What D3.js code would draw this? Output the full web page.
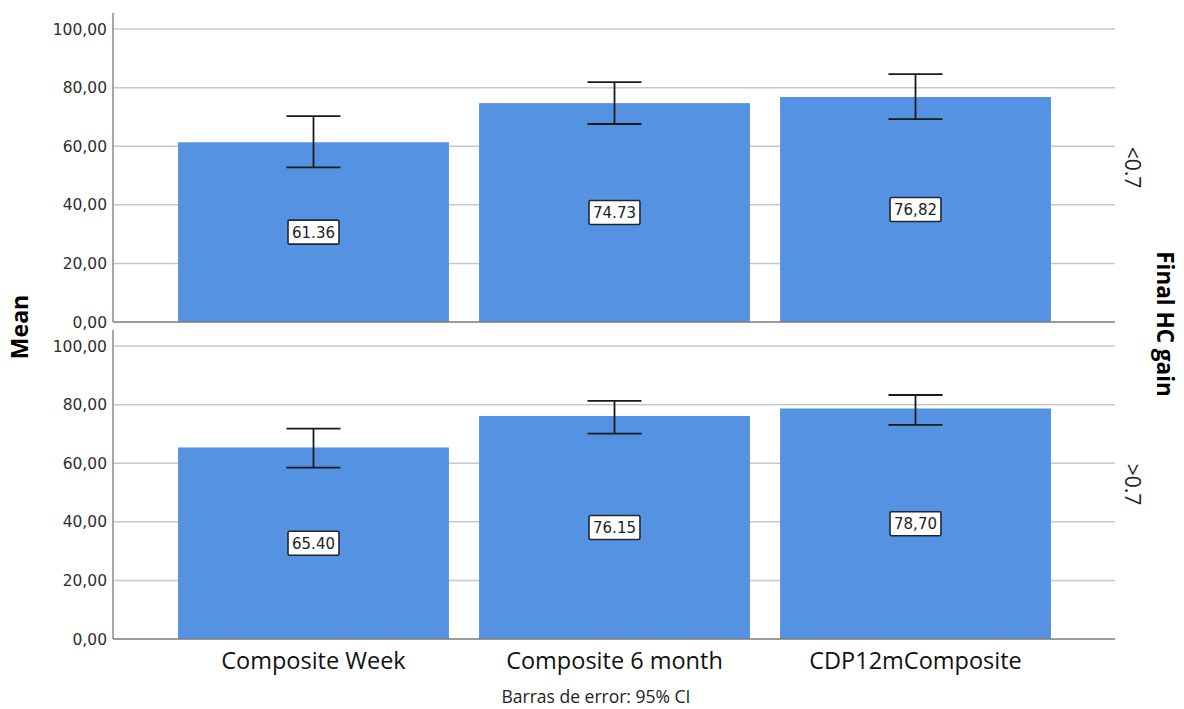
<!DOCTYPE html>
<html>
<head>
<meta charset="utf-8">
<script src="https://cdn.jsdelivr.net/npm/d3@7"></script>
<style>
  html, body { margin: 0; padding: 0; background: #fff; }
  svg { display: block; }
</style>
</head>
<body>
<svg id="chart" width="1184" height="709"></svg>
<script>
// Measures compared on the x axis
const categories = ["Composite Week", "Composite 6 month", "CDP12mComposite"];

// Panel groups (Final HC gain)
const groups = ["<0.7", ">0.7"];

// Mean per panel, in category order
const meansLow  = [61.36, 74.73, 76.82];
const meansHigh = [65.40, 76.15, 78.70];

// 95% CI bounds per panel
const ciLowLower  = [52.8, 67.6, 69.3];
const ciLowUpper  = [70.3, 81.9, 84.6];
const ciHighLower = [58.5, 70.1, 73.1];
const ciHighUpper = [71.8, 81.3, 83.3];

// Value labels as printed on the bars
const labelsLow  = ["61.36", "74.73", "76,82"];
const labelsHigh = ["65.40", "76.15", "78,70"];

// Y axis ticks
const yTicks = [0, 20, 40, 60, 80, 100];
const yTickLabels = ["0,00", "20,00", "40,00", "60,00", "80,00", "100,00"];

const panels = [
  { group: groups[0], means: meansLow,  lo: ciLowLower,  hi: ciLowUpper,  labels: labelsLow,  top: 13,  bottom: 322 },
  { group: groups[1], means: meansHigh, lo: ciHighLower, hi: ciHighUpper, labels: labelsHigh, top: 330, bottom: 639 }
];

const svg = d3.select("#chart");
const plotLeft = 113, plotRight = 1115;
const barColor = "#5592e1";
const yMax = 105.5;

const x = d3.scaleBand()
  .domain(categories)
  .range([163, 1066])
  .paddingInner(0.1)
  .paddingOuter(0.05);

const numFont = "'DejaVu Sans', sans-serif";
const textFont = "'Open Sans', 'Liberation Sans', sans-serif";

panels.forEach(p => {
  const y = d3.scaleLinear().domain([0, yMax]).range([p.bottom, p.top]);
  const g = svg.append("g");

  // gridlines
  g.selectAll("line.grid")
    .data(yTicks.filter(t => t > 0))
    .join("line")
    .attr("x1", plotLeft).attr("x2", plotRight)
    .attr("y1", d => y(d)).attr("y2", d => y(d))
    .attr("stroke", "#c8c8c8").attr("stroke-width", 1.5);

  // y axis labels
  g.selectAll("text.tick")
    .data(yTicks)
    .join("text")
    .attr("x", 107)
    .attr("y", d => y(d))
    .attr("dy", "0.36em")
    .attr("text-anchor", "end")
    .attr("font-family", numFont)
    .attr("font-size", 15.5)
    .attr("fill", "#2e2e2e")
    .text((d, i) => yTickLabels[i]);

  // bars
  g.selectAll("rect.bar")
    .data(categories)
    .join("rect")
    .attr("x", d => x(d))
    .attr("width", x.bandwidth())
    .attr("y", (d, i) => y(p.means[i]))
    .attr("height", (d, i) => y(0) - y(p.means[i]))
    .attr("fill", barColor);

  // baseline and y axis line
  g.append("line")
    .attr("x1", plotLeft).attr("x2", plotRight)
    .attr("y1", y(0)).attr("y2", y(0))
    .attr("stroke", "#7a7a7a").attr("stroke-width", 1.5);
  g.append("line")
    .attr("x1", plotLeft).attr("x2", plotLeft)
    .attr("y1", p.top).attr("y2", y(0))
    .attr("stroke", "#8a8a8a").attr("stroke-width", 1.5);

  // error bars and value labels
  const capHalf = 27;
  categories.forEach((c, i) => {
    const cx = x(c) + x.bandwidth() / 2;
    const eg = g.append("g").attr("stroke", "#1a1a1a").attr("stroke-width", 1.8);
    eg.append("line").attr("x1", cx).attr("x2", cx).attr("y1", y(p.hi[i])).attr("y2", y(p.lo[i]));
    eg.append("line").attr("x1", cx - capHalf).attr("x2", cx + capHalf).attr("y1", y(p.hi[i])).attr("y2", y(p.hi[i]));
    eg.append("line").attr("x1", cx - capHalf).attr("x2", cx + capHalf).attr("y1", y(p.lo[i])).attr("y2", y(p.lo[i]));

    const ly = y(p.means[i] / 2);
    const lg = g.append("g").attr("transform", `translate(${cx},${ly})`);
    const t = lg.append("text")
      .attr("text-anchor", "middle")
      .attr("dy", "0.36em")
      .attr("font-family", numFont)
      .attr("font-size", 15)
      .attr("fill", "#222")
      .text(p.labels[i]);
    const w = t.node().getComputedTextLength();
    lg.insert("rect", "text")
      .attr("x", -w / 2 - 4).attr("y", -12)
      .attr("width", w + 8).attr("height", 24)
      .attr("fill", "#fff")
      .attr("stroke", "#1f2733").attr("stroke-width", 1.6)
      .attr("rx", 1.5);
  });

  // panel label on the right
  svg.append("text")
    .attr("transform", `translate(1125,${(p.top + p.bottom) / 2}) rotate(90)`)
    .attr("text-anchor", "middle")
    .attr("font-family", textFont)
    .attr("font-size", 21)
    .attr("fill", "#222")
    .text(p.group);
});

// category labels
svg.selectAll("text.cat")
  .data(categories)
  .join("text")
  .attr("x", d => x(d) + x.bandwidth() / 2)
  .attr("y", 669)
  .attr("text-anchor", "middle")
  .attr("font-family", textFont)
  .attr("font-size", 23.5)
  .attr("fill", "#111")
  .text(d => d);

// footnote
svg.append("text")
  .attr("x", 596).attr("y", 703)
  .attr("text-anchor", "middle")
  .attr("font-family", textFont)
  .attr("font-size", 17.5)
  .attr("fill", "#222")
  .text("Barras de error: 95% CI");

// y axis title
svg.append("text")
  .attr("transform", "translate(28,327) rotate(-90)")
  .attr("text-anchor", "middle")
  .attr("font-family", textFont)
  .attr("font-weight", "bold")
  .attr("font-size", 23)
  .attr("fill", "#000")
  .text("Mean");

// panel variable title
svg.append("text")
  .attr("transform", "translate(1157,324) rotate(90)")
  .attr("text-anchor", "middle")
  .attr("font-family", textFont)
  .attr("font-weight", "bold")
  .attr("font-size", 22.5)
  .attr("fill", "#000")
  .text("Final HC gain");
</script>
</body>
</html>
